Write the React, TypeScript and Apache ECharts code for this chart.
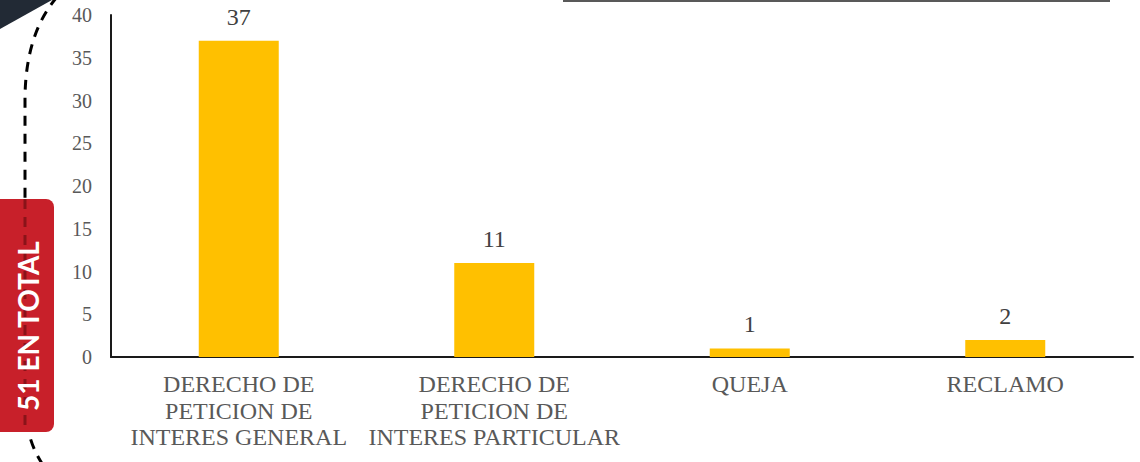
import React, { useEffect, useRef } from "react";
import * as echarts from "echarts";

const categories = [
  "DERECHO DE\nPETICION DE\nINTERES GENERAL",
  "DERECHO DE\nPETICION DE\nINTERES PARTICULAR",
  "QUEJA",
  "RECLAMO",
];
const values = [37, 11, 1, 2];
const yMin = 0;
const yMax = 40;
const yInterval = 5;
const totalLabel = "51 EN TOTAL";

echarts.graphic.registerShape(
  "dashcurve",
  echarts.graphic.extendPath("M57,-3 C39,18 25,50 25,100 L25,400 C25,430 33,450 43,465", {}) as any
);

export default function App() {
  const ref = useRef<HTMLDivElement>(null);
  useEffect(() => {
    if (!ref.current) return;
    const chart = echarts.init(ref.current, null, { renderer: "svg" });
    const serif = "'Liberation Serif', 'Times New Roman', serif";
    chart.setOption({
      animation: false,
      backgroundColor: "#ffffff",
      grid: { left: 111, right: 7, top: 15, bottom: 105, containLabel: false },
      xAxis: {
        type: "category",
        data: categories,
        axisLine: { show: true, lineStyle: { color: "#1a1a1a", width: 2 } },
        axisTick: { show: false },
        axisLabel: {
          interval: 0,
          margin: 14,
          color: "#595959",
          fontFamily: serif,
          fontSize: 24,
          lineHeight: 26.5,
        },
      },
      yAxis: {
        type: "value",
        min: yMin,
        max: yMax,
        interval: yInterval,
        axisLine: { show: true, lineStyle: { color: "#1a1a1a", width: 2 } },
        axisTick: { show: false },
        splitLine: { show: false },
        axisLabel: {
          margin: 19,
          color: "#595959",
          fontFamily: serif,
          fontSize: 20,
        },
      },
      series: [
        {
          type: "bar",
          data: values,
          barWidth: 80,
          itemStyle: { color: "#FFC000" },
          label: {
            show: true,
            position: "top",
            distance: 12,
            color: "#404040",
            fontFamily: serif,
            fontSize: 24,
          },
        },
      ],
      graphic: [
        {
          type: "polygon",
          shape: { points: [[0, 0], [52, 0], [0, 29]] },
          style: { fill: "#222A35" },
          z: 10,
        },
        {
          type: "line",
          shape: { x1: 563, y1: 1, x2: 1110, y2: 1 },
          style: { stroke: "#595959", lineWidth: 2 },
          z: 10,
        },
        {
          type: "dashcurve",
          x: 0,
          y: 0,
          style: { stroke: "#000000", lineWidth: 3, lineDash: [10, 8], fill: "none" },
          z: 10,
        },
        {
          type: "rect",
          shape: { x: -10, y: 199, width: 64, height: 233, r: 8 },
          style: { fill: "#C8202A" },
          z: 11,
        },
        {
          type: "line",
          shape: { x1: 25, y1: 199, x2: 25, y2: 432 },
          style: { stroke: "#7A1015", lineWidth: 3, lineDash: [10, 8], opacity: 0.8 },
          z: 12,
        },
        {
          type: "text",
          x: 28,
          y: 326,
          rotation: Math.PI / 2,
          style: {
            text: totalLabel,
            fill: "#ffffff",
            font: "bold 28px Lato, 'Open Sans', sans-serif",
            textAlign: "center",
            textVerticalAlign: "middle",
          },
          z: 13,
        },
      ],
    });
    return () => chart.dispose();
  }, []);
  return (
    <div
      ref={ref}
      style={{ position: "fixed", left: 0, top: 0, width: 1140, height: 462 }}
    />
  );
}
